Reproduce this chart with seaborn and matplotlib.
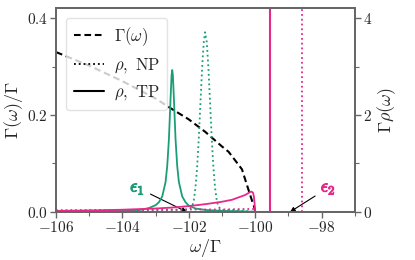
import numpy as np
import pandas as pd
import matplotlib
matplotlib.use("Agg")
import matplotlib.pyplot as plt
from matplotlib.lines import Line2D
from matplotlib.ticker import MultipleLocator, FuncFormatter
import matplotlib.patheffects as pe
import seaborn as sns

# ---------------- data ----------------
gamma_w = [-106.0, -105.0, -104.0, -103.0, -102.5, -102.0, -101.5, -101.0, -100.8,
           -100.6, -100.4, -100.2, -100.1, -100.03, -100.0]
gamma_v = [0.330, 0.302, 0.270, 0.234, 0.212, 0.191, 0.165, 0.135, 0.124,
           0.106, 0.088, 0.045, 0.024, 0.010, 0.0]

tp1_w = [-106.0, -105.0, -104.0, -103.5, -103.2, -103.0, -102.9, -102.8, -102.7, -102.65,
         -102.6, -102.55, -102.52, -102.5, -102.48, -102.45, -102.4, -102.35, -102.3,
         -102.2, -102.1, -102.0, -101.8, -101.5, -101.0, -100.5, -100.0, -97.0]
tp1_v = [0.01, 0.015, 0.02, 0.035, 0.08, 0.14, 0.20, 0.32, 0.62, 0.95,
         1.50, 2.34, 2.82, 2.93, 2.82, 2.34, 1.50, 0.95, 0.62,
         0.32, 0.20, 0.13, 0.07, 0.04, 0.02, 0.015, 0.0, 0.0]

np1_w = [-106.0, -104.0, -103.0, -102.3, -102.0, -101.9, -101.85, -101.8, -101.75, -101.7,
         -101.65, -101.6, -101.55, -101.51, -101.46, -101.41, -101.36, -101.31, -101.26,
         -101.21, -101.16, -101.11, -101.0, -100.5, -100.0, -97.0]
np1_v = [0.03, 0.03, 0.035, 0.04, 0.05, 0.11, 0.24, 0.50, 0.92, 1.52,
         2.25, 2.97, 3.51, 3.71, 3.51, 2.97, 2.25, 1.52, 0.92,
         0.50, 0.24, 0.105, 0.04, 0.03, 0.0, 0.0]

tp2_w = [-106.0, -105.0, -104.0, -103.0, -102.5, -102.0, -101.5, -101.0, -100.7, -100.5,
         -100.3, -100.18, -100.12, -100.07, -100.04, -100.02, -100.0, -97.0]
tp2_v = [0.02, 0.03, 0.045, 0.07, 0.09, 0.12, 0.16, 0.21, 0.25, 0.30,
         0.35, 0.40, 0.42, 0.40, 0.32, 0.18, 0.0, 0.0]

np2_w = [-106.0, -104.0, -102.0, -101.0, -100.3, -100.05, -100.0, -97.0]
np2_v = [0.03, 0.04, 0.05, 0.05, 0.06, 0.06, 0.0, 0.0]

bound_tp = [-99.55]   # delta peak, topological phase
bound_np = [-98.58]   # delta peak, normal phase

eps_labels = [r'$\epsilon_1$', r'$\epsilon_2$']
eps_pos = [-102.06, -98.95]

xticks = [-106, -104, -102, -100, -98]
yticks_left = [0.0, 0.2, 0.4]
yticks_right = [0, 2, 4]

# ---------------- style ----------------
sns.set_style("ticks")
plt.rcParams['mathtext.fontset'] = 'cm'
plt.rcParams['font.family'] = ['DejaVu Serif']
plt.rcParams['font.size'] = 10

pal = sns.color_palette("Dark2")
green, pink = pal[0], pal[3]
spine_c = '#666666'

fig = plt.figure(figsize=(4.15, 2.6), dpi=100)
ax = fig.add_axes([0.135, 0.185, 0.72, 0.786])
ax2 = ax.twinx()

sns.lineplot(x=gamma_w, y=gamma_v, ax=ax, color='k', lw=1.5, ls=(0, (3.2, 1.8)),
             sort=False, estimator=None)

sns.lineplot(x=tp1_w, y=tp1_v, ax=ax2, color=green, lw=1.3, sort=False, estimator=None)
sns.lineplot(x=np1_w, y=np1_v, ax=ax2, color=green, lw=1.3, ls=':', sort=False, estimator=None)
sns.lineplot(x=tp2_w, y=tp2_v, ax=ax2, color=pink, lw=1.3, sort=False, estimator=None)
sns.lineplot(x=np2_w, y=np2_v, ax=ax2, color=pink, lw=1.3, ls=':', sort=False, estimator=None)
for xv in bound_tp:
    ax2.axvline(xv, color=pink, lw=1.5)
for xv in bound_np:
    ax2.axvline(xv, color=pink, lw=1.3, ls=':')

ax.set_xlim(-106, -97)
ax.set_ylim(0, 0.422)
ax2.set_ylim(0, 4.22)

ax.set_xticks(xticks)
ax.set_yticks(yticks_left)
ax2.set_yticks(yticks_right)
ax.xaxis.set_minor_locator(MultipleLocator(1))
ax.yaxis.set_minor_locator(MultipleLocator(0.1))
ax2.yaxis.set_minor_locator(MultipleLocator(1))
ax.xaxis.set_major_formatter(FuncFormatter(lambda v, p: f'${v:g}$'))
ax.yaxis.set_major_formatter(FuncFormatter(lambda v, p: f'${v:.1f}$'))
ax2.yaxis.set_major_formatter(FuncFormatter(lambda v, p: f'${v:g}$'))

for a in (ax, ax2):
    for s in a.spines.values():
        s.set_color(spine_c)
        s.set_linewidth(1.3)
    a.tick_params(which='both', direction='out', color=spine_c, labelsize=11, pad=2)
    a.tick_params(which='major', length=4, width=1)
    a.tick_params(which='minor', length=3, width=0.8)

ax.set_xlabel(r'$\omega/\Gamma$', fontsize=13, labelpad=1)
ax.set_ylabel(r'$\Gamma(\omega)/\Gamma$', fontsize=13, labelpad=1)
ax2.set_ylabel(r'$\Gamma\rho(\omega)$', fontsize=13, labelpad=2)

# annotations
t1 = ax.annotate(eps_labels[0], xy=(eps_pos[0], 0.0), xytext=(-103.55, 0.05),
                 color=green, fontsize=13, ha='center', va='center',
                 arrowprops=dict(arrowstyle='-|>', color='k', lw=0.8, mutation_scale=7,
                                 shrinkA=2, shrinkB=0))
t2 = ax.annotate(eps_labels[1], xy=(eps_pos[1], 0.0), xytext=(-97.8, 0.05),
                 color=pink, fontsize=13, ha='center', va='center',
                 arrowprops=dict(arrowstyle='-|>', color='k', lw=0.8, mutation_scale=7,
                                 shrinkA=2, shrinkB=0))
t1.set_path_effects([pe.withStroke(linewidth=0.8, foreground=green)])
t2.set_path_effects([pe.withStroke(linewidth=0.8, foreground=pink)])

handles = [Line2D([], [], color='k', lw=1.5, ls=(0, (3.2, 1.8))),
           Line2D([], [], color='k', lw=1.3, ls=':'),
           Line2D([], [], color='k', lw=1.5)]
labels = [r'$\Gamma(\omega)$', r'$\rho,\ \mathrm{NP}$', r'$\rho,\ \mathrm{TP}$']
leg = ax2.legend(handles, labels, loc='upper left', fontsize=12, framealpha=0.8,
                 handlelength=1.8, borderaxespad=0.6, labelspacing=0.5,
                 borderpad=0.45, handletextpad=0.6)
leg.get_frame().set_edgecolor('#dddddd')

fig.savefig('out.png', dpi=100)
